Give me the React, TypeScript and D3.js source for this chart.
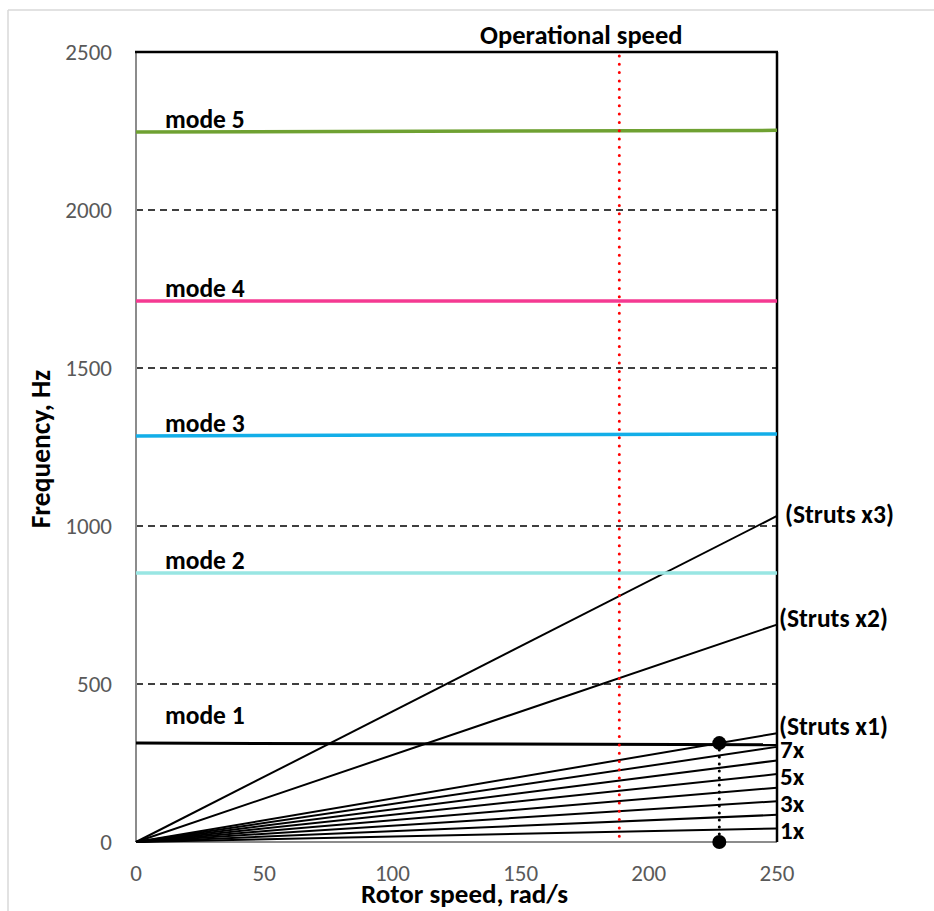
import * as d3 from "d3";

const W = 934;
const H = 911;

// modes: frequency at 0 and 250 rad/s
const modeNames = ["mode 1", "mode 2", "mode 3", "mode 4", "mode 5"];
const modeStart = [313, 851, 1285, 1712, 2247];
const modeEnd = [308, 851, 1291, 1712, 2252];
const modeColors = ["#000000", "#99e6e3", "#13aee8", "#f53a92", "#6fa132"];

// engine orders (frequency reached at 250 rad/s)
const orderNames = ["1x", "", "3x", "", "5x", "", "7x"];
const orderEnd = [43, 86, 129, 172, 215, 258, 301];

const strutNames = ["(Struts x1)", "(Struts x2)", "(Struts x3)"];
const strutEnd = [344, 688, 1032];

const xTicks = [0, 50, 100, 150, 200, 250];
const yTicks = [0, 500, 1000, 1500, 2000, 2500];
const gridTicks = [500, 1000, 1500, 2000];

const opSpeed = 188.5;
const crossing = { speed: 227.5, freq: 313 };

const margin = { top: 52, right: W - 777, bottom: H - 842, left: 136 };

export default function App() {
  const x = d3.scaleLinear().domain([0, 250]).range([margin.left, W - margin.right]);
  const y = d3.scaleLinear().domain([0, 2500]).range([H - margin.bottom, margin.top]);
  const line = d3
    .line<[number, number]>()
    .x((d) => x(d[0]))
    .y((d) => y(d[1]));

  const font = "Calibri, Carlito, 'Open Sans', sans-serif";

  return (
    <div style={{ position: "absolute", left: 0, top: 0 }}>
      <svg width={W} height={H} style={{ display: "block", background: "#fff" }}>
        {/* outer frame */}
        <line x1={8} x2={W} y1={10} y2={10} stroke="#d9d9d9" strokeWidth={1.5} />
        <line x1={8} x2={8} y1={10} y2={H} stroke="#d9d9d9" strokeWidth={1.5} />

        {/* gridlines */}
        {gridTicks.map((t) => (
          <line
            key={t}
            x1={x(0)}
            x2={x(250)}
            y1={y(t)}
            y2={y(t)}
            stroke="#000"
            strokeWidth={1.3}
            strokeDasharray="7,5"
          />
        ))}

        {/* axes & frame */}
        <line x1={x(0)} x2={x(0)} y1={y(0)} y2={y(2500)} stroke="#8c8c8c" strokeWidth={2} />
        <line x1={x(0)} x2={x(250)} y1={y(0)} y2={y(0)} stroke="#8c8c8c" strokeWidth={2} />
        <line x1={x(0) - 1} x2={x(250) + 1} y1={y(2500)} y2={y(2500)} stroke="#000" strokeWidth={2.5} />
        <line x1={x(250)} x2={x(250)} y1={y(2500)} y2={y(0)} stroke="#000" strokeWidth={2.5} />

        {/* engine orders */}
        {orderEnd.map((v, i) => (
          <path
            key={"o" + i}
            d={line([[0, 0], [250, v]]) || ""}
            fill="none"
            stroke="#000"
            strokeWidth={2}
          />
        ))}
        {strutEnd.map((v, i) => (
          <path
            key={"s" + i}
            d={line([[0, 0], [250, v]]) || ""}
            fill="none"
            stroke="#000"
            strokeWidth={2}
          />
        ))}

        {/* modes */}
        {modeStart.map((v, i) => (
          <path
            key={"m" + i}
            d={line([[0, v], [250, modeEnd[i]]]) || ""}
            fill="none"
            stroke={modeColors[i]}
            strokeWidth={i === 0 ? 3 : 3.5}
          />
        ))}
        {modeNames.map((n, i) => (
          <text
            key={"ml" + i}
            x={x(11.3)}
            y={y(modeStart[i]) - (i === 0 ? 19 : 4)}
            fontFamily={font}
            fontWeight="bold"
            fontSize={25.5}
            fill="#000"
          >
            {n}
          </text>
        ))}

        {/* operational speed */}
        <line
          x1={x(opSpeed)}
          x2={x(opSpeed)}
          y1={y(2500) + 4}
          y2={y(0)}
          stroke="#ff0000"
          strokeWidth={3}
          strokeLinecap="round"
          strokeDasharray="0,8.3"
        />
        <text
          x={x(opSpeed) - 38}
          y={44}
          textAnchor="middle"
          fontFamily={font}
          fontWeight="bold"
          fontSize={26.5}
        >
          Operational speed
        </text>

        {/* crossing marker */}
        <line
          x1={x(crossing.speed)}
          x2={x(crossing.speed)}
          y1={y(crossing.freq)}
          y2={y(0)}
          stroke="#000"
          strokeWidth={3}
          strokeLinecap="round"
          strokeDasharray="0,7"
        />
        <circle cx={x(crossing.speed)} cy={y(crossing.freq)} r={7} fill="#000" />
        <circle cx={x(crossing.speed)} cy={y(0)} r={7} fill="#000" />

        {/* right labels */}
        {orderNames.map((n, i) =>
          n ? (
            <text
              key={"ol" + i}
              x={x(250) + 3}
              y={y(orderEnd[i]) + 11}
              fontFamily={font}
              fontWeight="bold"
              fontSize={25}
            >
              {n}
            </text>
          ) : null
        )}
        {strutNames.map((n, i) => (
          <text
            key={"sl" + i}
            x={x(250) + (i === 2 ? 8 : 2)}
            y={y(strutEnd[i]) + (i === 2 ? 7 : 2)}
            fontFamily={font}
            fontWeight="bold"
            fontSize={25.5}
          >
            {n}
          </text>
        ))}

        {/* tick labels */}
        {yTicks.map((t) => (
          <text
            key={"y" + t}
            x={x(0) - 24}
            y={y(t)}
            dy="0.33em"
            textAnchor="end"
            fontFamily={font}
            fontSize={23}
            fill="#595959"
          >
            {t}
          </text>
        ))}
        {xTicks.map((t) => (
          <text
            key={"x" + t}
            x={x(t)}
            y={y(0) + 31}
            dy="0.33em"
            textAnchor="middle"
            fontFamily={font}
            fontSize={23}
            fill="#595959"
          >
            {t}
          </text>
        ))}

        {/* axis titles */}
        <text
          x={(x(0) + x(250)) / 2 + 8}
          y={903}
          textAnchor="middle"
          fontFamily={font}
          fontWeight="bold"
          fontSize={27}
        >
          Rotor speed, rad/s
        </text>
        <text
          transform={`translate(50,${(y(0) + y(2500)) / 2 + 2}) rotate(-90)`}
          textAnchor="middle"
          fontFamily={font}
          fontWeight="bold"
          fontSize={27.5}
        >
          Frequency, Hz
        </text>
      </svg>
    </div>
  );
}
